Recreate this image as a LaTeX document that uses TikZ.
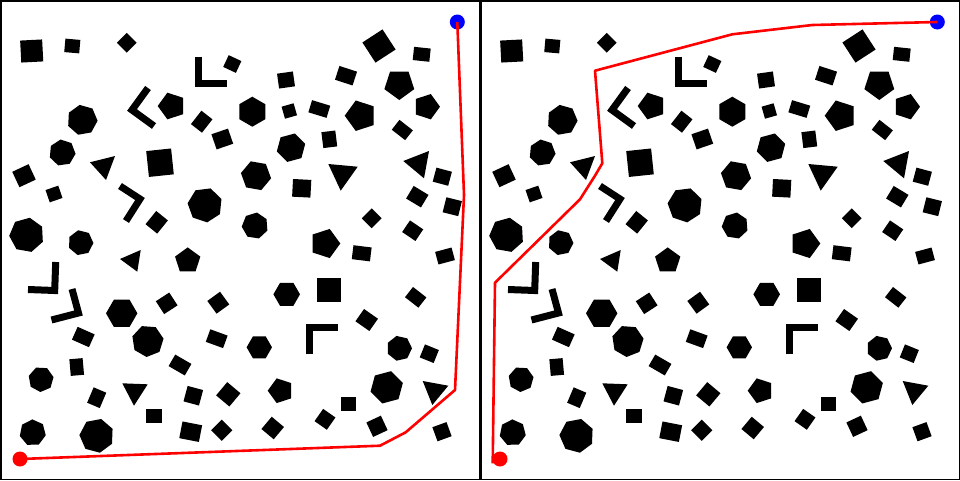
\documentclass[tikz,border=0pt]{standalone}
\usepackage{tikz}
\usetikzlibrary{arrows.meta, positioning, calc}
\definecolor{routecolor}{HTML}{FF0000}
\definecolor{goalcolor}{HTML}{0000FF}

\tikzset{
  obst/.style={fill=black},
  bar/.style={draw=black, line width=7pt, line join=miter, line cap=butt},
  route/.style={draw=routecolor, line width=2.6pt, line join=round},
  startdot/.style={circle, fill=routecolor, inner sep=0pt, minimum size=15pt},
  goaldot/.style={circle, fill=goalcolor, inner sep=0pt, minimum size=15pt},
  frame/.style={draw=black, line width=1.5pt},
}
% x y width height rotation
\newcommand{\obrect}[5]{\fill[obst, shift={(#1,#2)}, rotate=#5] (-#3/2,-#4/2) rectangle (#3/2,#4/2);}
% x y sides radius rotation
\newcommand{\obpoly}[5]{\fill[obst, shift={(#1,#2)}] (#5:#4pt) \foreach \k in {1,...,#3}{ -- ({#5+\k*360/#3}:#4pt)} -- cycle;}
\newcommand{\obtri}[3]{\fill[obst] #1 -- #2 -- #3 -- cycle;}

\newcommand{\drawobstacles}{%
  % quadrilaterals
  \obrect{31.7}{51}{22}{22}{3}
  \obrect{72.3}{46}{15}{13.5}{-5}
  \obrect{126.7}{42.7}{14}{14}{45}
  \obrect{232.3}{64}{14}{13}{-25}
  \obrect{201.7}{121.7}{14}{17}{-38}
  \obrect{222.3}{139}{17.5}{16}{19}
  \obrect{160}{162.7}{25}{26}{6}
  \obrect{24}{175.7}{18}{17}{25}
  \obrect{54}{194}{13.5}{13}{19}
  \obrect{156.7}{222.3}{15}{17}{-39}
  \obrect{286}{80}{16}{15}{8}
  \obrect{346}{75.7}{18.5}{14.5}{-18}
  \obrect{379}{46}{24}{24}{33}
  \obrect{421.7}{54.3}{16.7}{13.3}{-6}
  \obrect{289.3}{111}{12.5}{12.5}{16}
  \obrect{319.3}{109}{19}{12.7}{-17}
  \obrect{402.3}{130}{17}{12.5}{-38}
  \obrect{329.3}{139.3}{14}{16}{7}
  \obrect{301.7}{188.3}{18.3}{17.7}{-3}
  \obrect{442.3}{176.7}{16}{14.5}{-15}
  \obrect{417.3}{196.7}{17.3}{14.7}{-31}
  \obrect{452.3}{206.7}{16}{15.5}{-14}
  \obrect{371.7}{218.3}{14}{14}{45}
  \obrect{412.7}{230.7}{16}{14}{-34}
  \obrect{166.7}{303.3}{16}{15.3}{33}
  \obrect{218.3}{302.7}{15.7}{15.7}{36}
  \obrect{83.3}{337}{18.6}{14}{-24}
  \obrect{216.7}{338.7}{18.4}{13.3}{-20}
  \obrect{180}{365}{18.7}{13.3}{-30}
  \obrect{76.7}{367}{13.3}{16.7}{5}
  \obrect{96.7}{397.7}{13.7}{16.7}{-23}
  \obrect{193.3}{395.7}{16}{16}{-15}
  \obrect{228.3}{394.3}{17.3}{17.3}{-40}
  \obrect{153.7}{416}{16}{13.3}{0}
  \obrect{190.7}{431.7}{20}{17}{-11}
  \obrect{221.7}{430.3}{15}{15}{45}
  \obrect{361.7}{253.3}{18.3}{14}{-7}
  \obrect{445}{256}{17}{13}{15}
  \obrect{329}{290}{23.3}{23.3}{0}
  \obrect{415.7}{297.3}{17}{13}{-38}
  \obrect{366.7}{320}{17}{15}{-35}
  \obrect{429.3}{353.7}{15}{14}{-22}
  \obrect{348.3}{404}{15}{13.7}{0}
  \obrect{272.7}{428}{16}{16}{-40}
  \obrect{325}{419.3}{15}{15}{-35}
  \obrect{377}{426.3}{16}{16}{25}
  \obrect{442}{431.7}{15}{15}{20}
  % pentagons
  \obpoly{171.7}{106}{5}{14}{180}
  \obpoly{399.3}{84.3}{5}{15.7}{270}
  \obpoly{426.7}{106.7}{5}{13.3}{0}
  \obpoly{360.7}{115.7}{5}{16}{180}
  \obpoly{187.7}{260.7}{5}{13.3}{90}
  \obpoly{325}{243.5}{5}{15.3}{0}
  \obpoly{280.7}{390.7}{5}{13}{180}
  % hexagons
  \obpoly{252.3}{111.7}{6}{15}{90}
  \obpoly{291}{147.7}{6}{14.7}{15}
  \obpoly{256}{175.7}{6}{15.3}{-10}
  \obpoly{121.7}{313.3}{6}{15.7}{0}
  \obpoly{286.7}{294.3}{6}{13.3}{0}
  \obpoly{259.3}{347.3}{6}{12.7}{0}
  \obpoly{386.7}{387.3}{6}{16.7}{15}
  % heptagons
  \obpoly{82.3}{120}{7}{15.3}{100}
  \obpoly{62.3}{152.7}{7}{13.3}{-5}
  \obpoly{205}{205}{7}{17.5}{20}
  \obpoly{26.7}{235}{7}{17.5}{80}
  \obpoly{255}{225.7}{7}{13.3}{30}
  \obpoly{80.7}{242.7}{7}{12.7}{50}
  \obpoly{147.7}{341}{7}{16}{60}
  \obpoly{41}{379.3}{7}{12.7}{10}
  \obpoly{32.7}{432.7}{7}{13.3}{40}
  \obpoly{96.7}{435.7}{7}{17.3}{75}
  \obpoly{399.3}{348.3}{7}{12.7}{0}
  % triangles
  \obtri{(90,162.3)}{(115,156)}{(106,180)}
  \obtri{(328.3,164)}{(357.7,166.7)}{(340.7,190.7)}
  \obtri{(403.3,161)}{(429,151)}{(424,178.3)}
  \obtri{(120,259)}{(140.7,250)}{(137.3,271.7)}
  \obtri{(122.3,383.3)}{(147.7,384.3)}{(134,405.7)}
  \obtri{(422.7,381)}{(448.3,385.7)}{(432.3,405)}
  % bent bars
  \draw[bar] (198.7,56.7) -- (198.7,83) -- (226.7,83);
  \draw[bar] (148,88) -- (132,110) -- (154,126);
  \draw[bar] (120,186) -- (140,199) -- (126,221);
  \draw[bar] (55.7,262) -- (54.7,290.5) -- (28,289.5);
  \draw[bar] (72,289) -- (78.5,313) -- (51.5,320);
  \draw[bar] (309,354.3) -- (309,327) -- (337.7,327);
}

\begin{document}
\begin{tikzpicture}[x=1pt, y=-1pt]
  \useasboundingbox (0,0) rectangle (960,480);
  \fill[white] (0,0) rectangle (960,480);

  % obstacles, same field in both panels
  \foreach \off in {0,480} {
    \begin{scope}[xshift=\off pt]
      \drawobstacles
    \end{scope}
  }

  \draw[frame] (0.75,0.75) rectangle (479.25,479.25);
  \draw[frame] (480.75,0.75) rectangle (959.25,479.25);

  % left panel
  \node[startdot] (startL) at (20,459) {};
  \node[goaldot] (goalL) at (457.3,22) {};
  \draw[route] (startL.center) -- (380,445.7) -- (405.7,432.3) -- (455,390)
    -- (464,195) -- (goalL.center);

  % right panel
  \node[startdot] (startR) at (500,459) {};
  \node[goaldot] (goalR) at (937.3,22) {};
  \coordinate (entryR) at (492.7,463.3);
  \draw[route] (entryR) -- (495,282.7) -- (580,199.3) -- (595,175.7)
    -- (602.3,163.3) -- (595,70.7) -- (732.3,34.3) -- (812.3,25) -- (goalR.center);
\end{tikzpicture}
\end{document}
